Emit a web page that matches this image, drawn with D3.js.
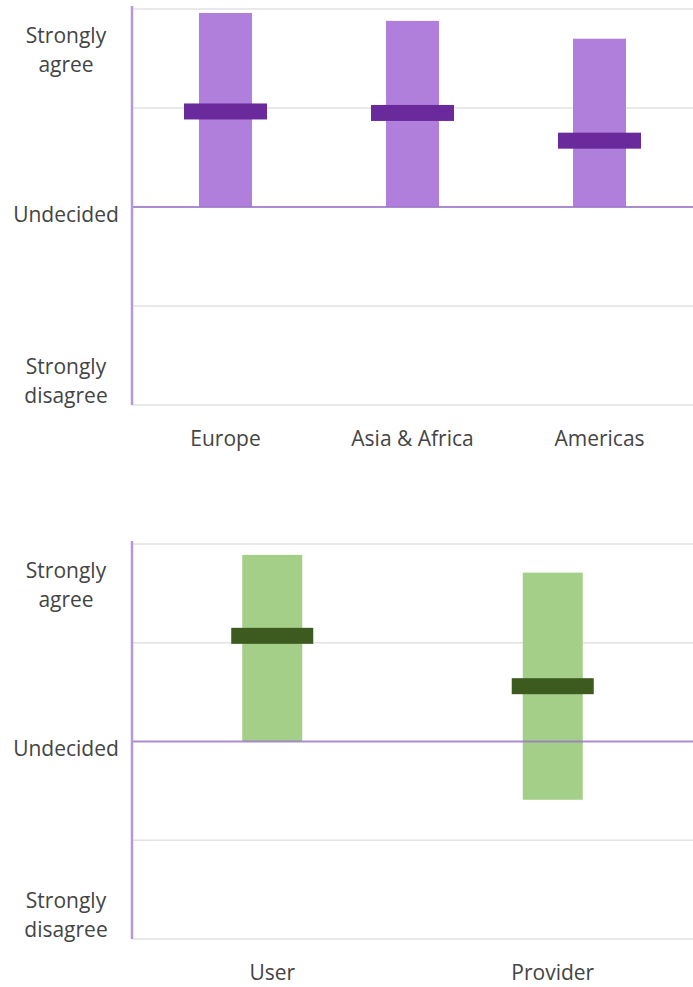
<!DOCTYPE html>
<html>
<head>
<meta charset="utf-8">
<script src="https://cdn.jsdelivr.net/npm/d3@7"></script>
<style>
  html, body { margin: 0; padding: 0; background: #fff; }
  svg { display: block; }
  text { font-family: "Open Sans", "Noto Sans", sans-serif; fill: #444; }
</style>
</head>
<body>
<svg id="chart" width="693" height="987"></svg>
<script>
// ---- data ----
const regionCategories = ["Europe", "Asia & Africa", "Americas"];
const regionLow  = [0, 0, 0];
const regionHigh = [1.96, 1.88, 1.70];
const regionMid  = [0.965, 0.95, 0.67];

const roleCategories = ["User", "Provider"];
const roleLow  = [0, -0.59];
const roleHigh = [1.89, 1.71];
const roleMid  = [1.07, 0.56];

const gridValues = [-2, -1, 0, 1, 2];
const labelValues = [2, 0, -2];
const labelLines = [["Strongly", "agree"], ["Undecided"], ["Strongly", "disagree"]];

// ---- drawing ----
const svg = d3.select("#chart");

function panel(opts) {
  const { cats, low, high, mid, top, bottom, barW, markW, barColor, markColor } = opts;
  const left = 132, right = 693;
  const y = d3.scaleLinear().domain([-2, 2]).range([bottom, top]);
  const x = d3.scaleBand().domain(cats).range([left, right]).padding(0);
  const g = svg.append("g");

  // gridlines
  g.selectAll("line.grid").data(gridValues.filter(v => v !== 0)).join("line")
    .attr("x1", left).attr("x2", right)
    .attr("y1", d => y(d)).attr("y2", d => y(d))
    .attr("stroke", "#e2e2e2").attr("stroke-width", 1.5);

  const rows = cats.map((c, i) => ({ c, lo: low[i], hi: high[i], m: mid[i] }));

  // range bars
  g.selectAll("rect.bar").data(rows).join("rect")
    .attr("x", d => x(d.c) + x.bandwidth() / 2 - barW / 2)
    .attr("width", barW)
    .attr("y", d => y(d.hi))
    .attr("height", d => y(d.lo) - y(d.hi))
    .attr("fill", barColor);

  // zero line
  g.append("line")
    .attr("x1", left).attr("x2", right)
    .attr("y1", y(0)).attr("y2", y(0))
    .attr("stroke", "#9c78c8").attr("stroke-width", 2).attr("stroke-opacity", 0.85);

  // left axis line
  g.append("line")
    .attr("x1", left).attr("x2", left)
    .attr("y1", y(2) - 3).attr("y2", y(-2))
    .attr("stroke", "#b597dc").attr("stroke-width", 2.5);

  // markers
  g.selectAll("rect.mark").data(rows).join("rect")
    .attr("x", d => x(d.c) + x.bandwidth() / 2 - markW / 2)
    .attr("width", markW)
    .attr("y", d => y(d.m) - 8)
    .attr("height", 16)
    .attr("fill", markColor);

  // x labels
  const xa = g.append("g").attr("transform", `translate(0,${y(-2) + 34})`)
    .call(d3.axisBottom(x).tickSize(0).tickPadding(0));
  xa.select(".domain").remove();
  xa.selectAll("text").attr("font-size", 21).attr("fill", "#444")
    .attr("dy", "0.35em").style("font-family", "'Open Sans', sans-serif");

  // y labels
  const offsets = [41, 7.5, -24];
  labelValues.forEach((v, i) => {
    const lines = labelLines[i];
    const cy = y(v) + offsets[i];
    const lh = 29;
    const t = g.append("text").attr("x", 66).attr("text-anchor", "middle")
      .attr("font-size", 21);
    lines.forEach((ln, j) => {
      t.append("tspan").attr("x", 66)
        .attr("y", cy + (j - (lines.length - 1) / 2) * lh)
        .attr("dy", "0.35em").text(ln);
    });
  });
}

panel({
  cats: regionCategories, low: regionLow, high: regionHigh, mid: regionMid,
  top: 9, bottom: 405, barW: 53, markW: 83,
  barColor: "#b07edb", markColor: "#6a2a9c"
});

panel({
  cats: roleCategories, low: roleLow, high: roleHigh, mid: roleMid,
  top: 544, bottom: 939, barW: 60, markW: 82,
  barColor: "#a4cf88", markColor: "#3d5a1f"
});
</script>
</body>
</html>
